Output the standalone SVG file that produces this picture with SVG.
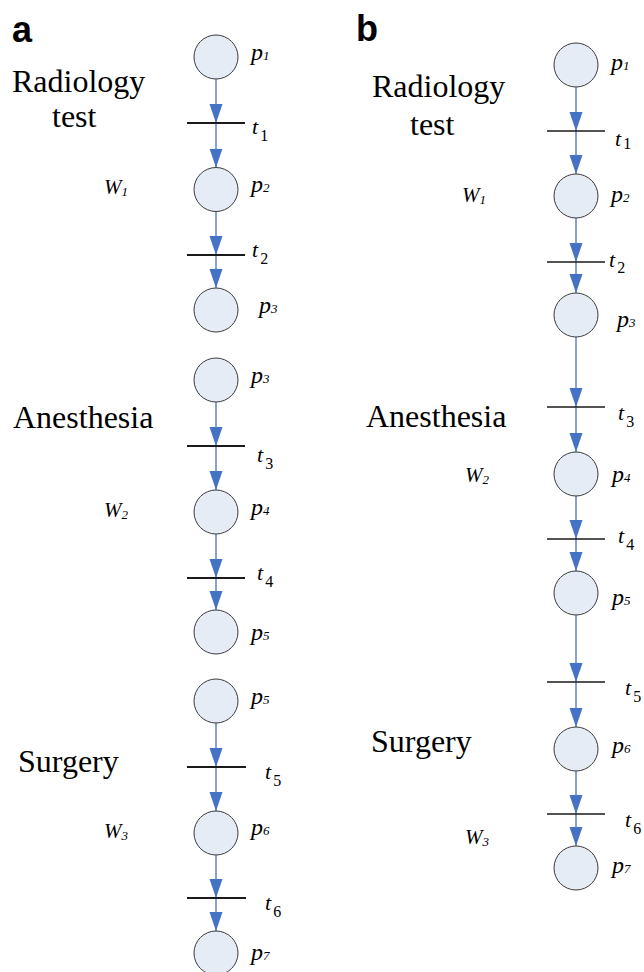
<svg xmlns="http://www.w3.org/2000/svg" width="644" height="972" viewBox="0 0 644 972">
<defs>
<marker id="ah" viewBox="0 -7 19 14" refX="19" refY="0" markerWidth="19" markerHeight="14" markerUnits="userSpaceOnUse" orient="auto">
<path d="M0,-6.5 L19,0 L0,6.5 Z" fill="#4472C4"/>
</marker>
<style>
.pl{fill:#E6ECF6;stroke:#3a3a3a;stroke-width:1}
.tr{stroke:#1a1a1a;stroke-width:2}
.trb{stroke:#1a1a1a;stroke-width:1.5}
.arc{stroke:#4472C4;stroke-width:1.3;fill:none;marker-end:url(#ah)}
.lab{font-family:"Liberation Serif","Times New Roman",serif;font-style:italic;font-size:24px;fill:#000}
.tl{font-family:"Liberation Serif","Times New Roman",serif;font-style:italic;font-size:22px;fill:#000}
.sub{font-size:13px}
.tsub{font-size:16px;font-style:normal}
.w{font-family:"Liberation Serif","Times New Roman",serif;font-style:italic;font-size:21px;fill:#000}
.big{font-family:"Liberation Serif","Times New Roman",serif;font-size:32px;fill:#000}
.pan{font-family:"Liberation Sans",Arial,sans-serif;font-weight:bold;font-size:36px;fill:#000}
</style>
</defs>
<rect width="644" height="972" fill="#fff"/>

<g id="connectors">
<path class="arc" d="M216,79V123"/>
<path class="arc" d="M216,123V167.5"/>
<path class="arc" d="M216,211.5V255"/>
<path class="arc" d="M216,255V288"/>
<path class="arc" d="M216,402V446"/>
<path class="arc" d="M216,446V490"/>
<path class="arc" d="M216,534V578"/>
<path class="arc" d="M216,578V610"/>
<path class="arc" d="M216,723V767"/>
<path class="arc" d="M216,767V811"/>
<path class="arc" d="M216,855V898"/>
<path class="arc" d="M216,898V931"/>
<path class="arc" d="M576,87V131"/>
<path class="arc" d="M576,131V174"/>
<path class="arc" d="M576,218V262"/>
<path class="arc" d="M576,262V293"/>
<path class="arc" d="M576,337V407"/>
<path class="arc" d="M576,407V452"/>
<path class="arc" d="M576,496V539"/>
<path class="arc" d="M576,539V571"/>
<path class="arc" d="M576,615V682"/>
<path class="arc" d="M576,682V727"/>
<path class="arc" d="M576,771V814"/>
<path class="arc" d="M576,814V846"/>
</g>

<g id="panel-a-labels">
<text class="pan" x="12" y="42">a</text>
<text class="big" x="12" y="92">Radiology</text>
<text class="big" x="52" y="127">test</text>
<text class="big" x="13" y="428">Anesthesia</text>
<text class="big" x="18" y="772">Surgery</text>
<text class="w" x="104" y="194">W<tspan class="sub" dy="2">1</tspan></text>
<text class="w" x="104" y="517">W<tspan class="sub" dy="2">2</tspan></text>
<text class="w" x="104" y="838">W<tspan class="sub" dy="2">3</tspan></text>
</g>

<g id="a-p1"><circle class="pl" cx="216" cy="57" r="22"/><text class="lab" x="251" y="60">p<tspan class="sub">1</tspan></text></g>
<g id="a-t1"><line class="tr" x1="187" y1="123" x2="245" y2="123"/><text class="tl" x="252" y="134">t<tspan class="tsub" dx="2" dy="7">1</tspan></text></g>
<g id="a-p2"><circle class="pl" cx="216" cy="189.5" r="22"/><text class="lab" x="251" y="192">p<tspan class="sub">2</tspan></text></g>
<g id="a-t2"><line class="tr" x1="187" y1="255" x2="245" y2="255"/><text class="tl" x="252" y="257">t<tspan class="tsub" dx="2" dy="7">2</tspan></text></g>
<g id="a-p3"><circle class="pl" cx="216" cy="310" r="22"/><text class="lab" x="259" y="313">p<tspan class="sub">3</tspan></text></g>

<g id="a-p3b"><circle class="pl" cx="216" cy="380" r="22"/><text class="lab" x="251" y="383">p<tspan class="sub">3</tspan></text></g>
<g id="a-t3"><line class="tr" x1="187" y1="446" x2="245" y2="446"/><text class="tl" x="257" y="462">t<tspan class="tsub" dx="2" dy="7">3</tspan></text></g>
<g id="a-p4"><circle class="pl" cx="216" cy="512" r="22"/><text class="lab" x="251" y="515">p<tspan class="sub">4</tspan></text></g>
<g id="a-t4"><line class="tr" x1="187" y1="578" x2="245" y2="578"/><text class="tl" x="257" y="580">t<tspan class="tsub" dx="2" dy="7">4</tspan></text></g>
<g id="a-p5"><circle class="pl" cx="216" cy="632" r="22"/><text class="lab" x="251" y="640">p<tspan class="sub">5</tspan></text></g>

<g id="a-p5b"><circle class="pl" cx="216" cy="701" r="22"/><text class="lab" x="251" y="704">p<tspan class="sub">5</tspan></text></g>
<g id="a-t5"><line class="tr" x1="187" y1="767" x2="246" y2="767"/><text class="tl" x="265" y="779">t<tspan class="tsub" dx="2" dy="7">5</tspan></text></g>
<g id="a-p6"><circle class="pl" cx="216" cy="833" r="22"/><text class="lab" x="251" y="835">p<tspan class="sub">6</tspan></text></g>
<g id="a-t6"><line class="tr" x1="187" y1="898" x2="246" y2="898"/><text class="tl" x="265" y="910">t<tspan class="tsub" dx="2" dy="7">6</tspan></text></g>
<g id="a-p7"><circle class="pl" cx="216" cy="953" r="22"/><text class="lab" x="251" y="960">p<tspan class="sub">7</tspan></text></g>

<g id="panel-b-labels">
<text class="pan" x="356" y="41">b</text>
<text class="big" x="372" y="97">Radiology</text>
<text class="big" x="410" y="135">test</text>
<text class="big" x="366" y="427">Anesthesia</text>
<text class="big" x="371" y="752">Surgery</text>
<text class="w" x="462" y="202">W<tspan class="sub" dy="2">1</tspan></text>
<text class="w" x="465" y="482">W<tspan class="sub" dy="2">2</tspan></text>
<text class="w" x="465" y="844">W<tspan class="sub" dy="2">3</tspan></text>
</g>

<g id="b-p1"><circle class="pl" cx="576" cy="65" r="22"/><text class="lab" x="611" y="70">p<tspan class="sub">1</tspan></text></g>
<g id="b-t1"><line class="trb" x1="547" y1="131" x2="605" y2="131"/><text class="tl" x="615" y="146">t<tspan class="tsub" dx="2" dy="3">1</tspan></text></g>
<g id="b-p2"><circle class="pl" cx="576" cy="196" r="22"/><text class="lab" x="611" y="202">p<tspan class="sub">2</tspan></text></g>
<g id="b-t2"><line class="trb" x1="547" y1="262" x2="605" y2="262"/><text class="tl" x="609" y="267">t<tspan class="tsub" dx="2" dy="6">2</tspan></text></g>
<g id="b-p3"><circle class="pl" cx="576" cy="315" r="22"/><text class="lab" x="617" y="327">p<tspan class="sub">3</tspan></text></g>
<g id="b-t3"><line class="trb" x1="547" y1="407" x2="605" y2="407"/><text class="tl" x="618" y="420">t<tspan class="tsub" dx="2" dy="7">3</tspan></text></g>
<g id="b-p4"><circle class="pl" cx="576" cy="474" r="22"/><text class="lab" x="612" y="482">p<tspan class="sub">4</tspan></text></g>
<g id="b-t4"><line class="trb" x1="547" y1="539" x2="605" y2="539"/><text class="tl" x="618" y="543">t<tspan class="tsub" dx="2" dy="7">4</tspan></text></g>
<g id="b-p5"><circle class="pl" cx="576" cy="593" r="22"/><text class="lab" x="612" y="605">p<tspan class="sub">5</tspan></text></g>
<g id="b-t5"><line class="trb" x1="547" y1="682" x2="605" y2="682"/><text class="tl" x="625" y="695">t<tspan class="tsub" dx="2" dy="7">5</tspan></text></g>
<g id="b-p6"><circle class="pl" cx="576" cy="749" r="22"/><text class="lab" x="612" y="753">p<tspan class="sub">6</tspan></text></g>
<g id="b-t6"><line class="trb" x1="547" y1="814" x2="605" y2="814"/><text class="tl" x="625" y="827">t<tspan class="tsub" dx="2" dy="7">6</tspan></text></g>
<g id="b-p7"><circle class="pl" cx="576" cy="868" r="22"/><text class="lab" x="612" y="873">p<tspan class="sub">7</tspan></text></g>
</svg>
